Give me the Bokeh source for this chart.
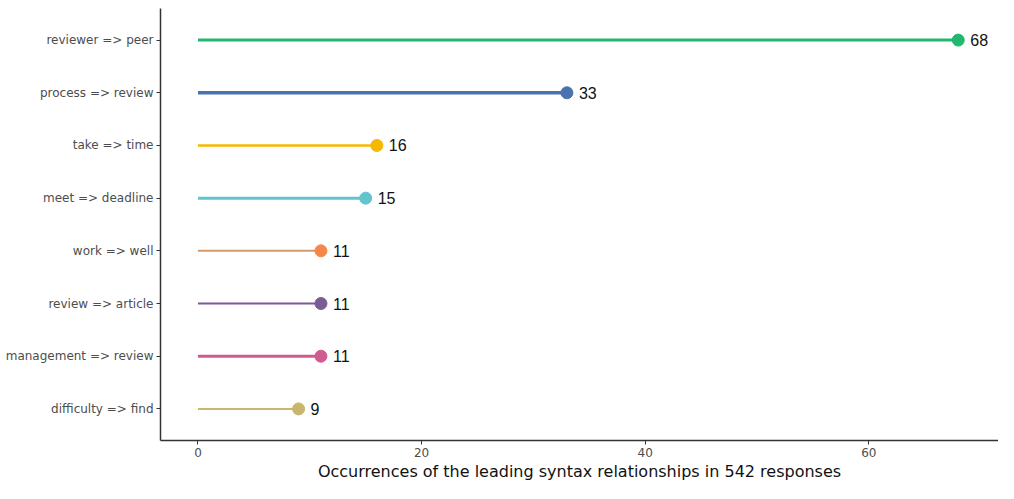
from bokeh.plotting import figure
from bokeh.models import ColumnDataSource, FixedTicker, Range1d
from bokeh.core.properties import value
from bokeh.embed import file_html
from bokeh.resources import INLINE

categories = ["reviewer => peer", "process => review", "take => time", "meet => deadline",
              "work => well", "review => article", "management => review", "difficulty => find"]
counts = [68, 33, 16, 15, 11, 11, 11, 9]
line_colors = ["#20b86f", "#4a72b0", "#f6b800", "#62c4cc", "#d49a6a", "#7a5b94", "#d15a91", "#cbb66f"]
dot_colors = ["#20b86f", "#4a72b0", "#f6b800", "#62c4cc", "#f6874a", "#7a5b94", "#d15a91", "#c9b56e"]
line_widths = [3, 3.5, 2.5, 3, 2, 2, 3, 2]
x_ticks = [0, 20, 40, 60]

n = len(categories)
ypos = [n - i for i in range(n)]
src = ColumnDataSource(dict(y=ypos, x=counts, x0=[0] * n, lc=line_colors, dc=dot_colors,
                            lw=line_widths, lab=[str(c) for c in counts]))

p = figure(width=998, height=483, output_backend="svg", toolbar_location=None,
           x_range=Range1d(-3.35, 71.6), y_range=Range1d(0.4, n + 0.6),
           min_border_left=160, min_border_right=0, min_border_top=8, min_border_bottom=40)
p.outline_line_color = None
p.xgrid.visible = False
p.ygrid.visible = False

p.segment(x0="x0", y0="y", x1="x", y1="y", line_color="lc", line_width="lw", source=src)
p.scatter(x="x", y="y", size=12, fill_color="dc", line_color="dc", source=src)
p.text(x="x", y="y", text="lab", x_offset=12, text_align="left", text_baseline="middle",
       text_font=value("Liberation Sans"), text_font_size="16px", text_color="#111111", source=src)

p.yaxis.ticker = FixedTicker(ticks=ypos)
p.yaxis.major_label_overrides = {y: c for y, c in zip(ypos, categories)}
p.xaxis.ticker = FixedTicker(ticks=x_ticks)

for ax in (p.xaxis, p.yaxis):
    ax.axis_line_color = "#333333"
    ax.axis_line_width = 1.5
    ax.major_tick_line_color = "#333333"
    ax.major_tick_in = 0
    ax.major_tick_out = 4
    ax.minor_tick_line_color = None
    ax.major_label_text_font = "DejaVu Sans"
    ax.major_label_text_font_size = "12px"
    ax.major_label_text_color = "#4d4d4d"
    ax.major_label_standoff = 3

p.xaxis.axis_label = "Occurrences of the leading syntax relationships in 542 responses"
p.xaxis.axis_label_text_font = "DejaVu Sans"
p.xaxis.axis_label_text_font_size = "16px"
p.xaxis.axis_label_text_font_style = "normal"
p.xaxis.axis_label_text_color = "#111111"
p.xaxis.axis_label_standoff = 2

open("out.html", "w").write(file_html(p, INLINE))
